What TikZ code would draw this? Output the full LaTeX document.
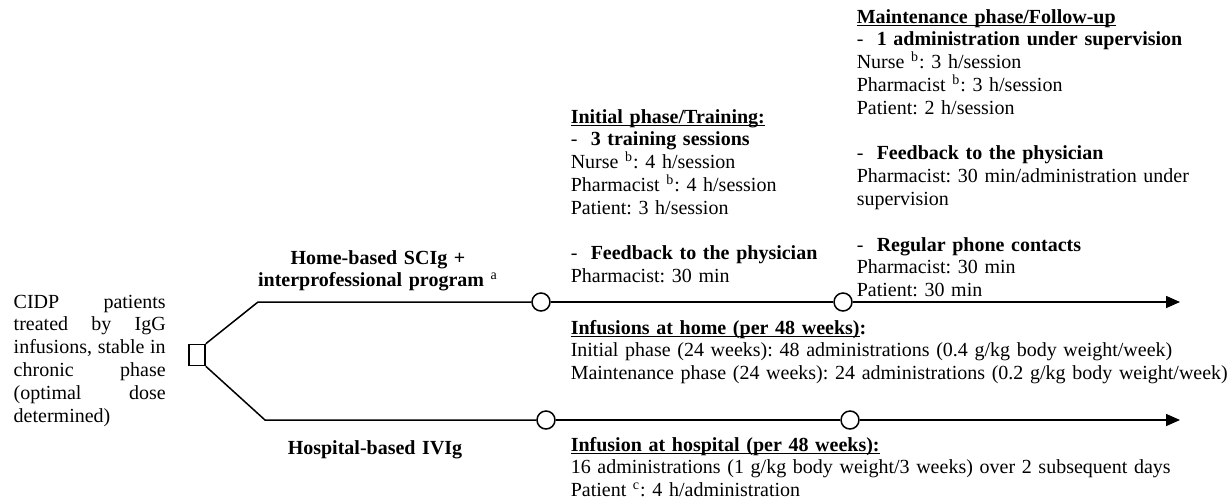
\documentclass[tikz,border=0pt]{standalone}
\usepackage{fontspec}
\setmainfont{Liberation Serif}
\usetikzlibrary{arrows.meta}
\newcommand{\cohortline}[1]{\leavevmode\hbox to 76pt{#1}}
\newsavebox{\headbox}
\newcommand{\ulhead}[1]{\sbox{\headbox}{#1}\rlap{\rule[-1.7pt]{\wd\headbox}{0.6pt}}\usebox{\headbox}}
\frenchspacing
\begin{document}
\begin{tikzpicture}[x=0.5pt,y=-0.5pt,line width=0.75pt,
    txt/.style={anchor=base west,inner sep=0pt,align=left,font=\fontsize{10}{11.4}\selectfont\frenchspacing},
    lbl/.style={anchor=base,inner sep=0pt,align=center,text width=240pt,font=\fontsize{10}{11.4}\selectfont\bfseries},
    event/.style={draw,circle,fill=white,minimum size=9pt,inner sep=0pt},
    decision/.style={draw,rectangle,minimum width=8pt,minimum height=10.5pt,inner sep=0pt}]

    \useasboundingbox (0,0) rectangle (1230,499);

    \node[txt,text width=76pt] (cohort) at (13,308) {\cohortline{CIDP\hfill patients}\\\cohortline{treated\hfill by\hfill IgG}\\\cohortline{infusions,\hfill stable\hfill in}\\\cohortline{chronic\hfill phase}\\\cohortline{(optimal\hfill dose}\\determined)};

    \node[decision] (dec) at (197,355) {};
    \coordinate (homekink) at (258,302);
    \coordinate (hospkink) at (265,420);
    \node[event] (home1) at (541,302) {};
    \node[event] (home2) at (843,302) {};
    \coordinate (homeend) at (1180,302);
    \node[event] (hosp1) at (546,420) {};
    \node[event] (hosp2) at (850,420) {};
    \coordinate (hospend) at (1180,420);

\draw (dec.north east) -- (homekink) -- (home1);
\draw (home1) -- (home2);
\draw[-{Triangle[length=7pt,width=6pt]}] (home2) -- (homeend);
\draw (dec.south east) -- (hospkink) -- (hosp1);
\draw (hosp1) -- (hosp2);
\draw[-{Triangle[length=7pt,width=6pt]}] (hosp2) -- (hospend);

    \node[lbl] (homelbl) at (378,264) {Home-based SCIg +\\interprofessional program \textsuperscript{\mdseries a}};
    \node[lbl] (hosplbl) at (375,454) {Hospital-based IVIg};

    \node[txt,text width=180pt] (initial) at (570,123) {\ulhead{\textbf{Initial phase/Training:}}\\
    -\ \ \textbf{3 training sessions}\\
    Nurse \textsuperscript{b}: 4 h/session\\
    Pharmacist \textsuperscript{b}: 4 h/session\\
    Patient: 3 h/session\\[11.4pt]
    -\ \ \textbf{Feedback to the physician}\\
    Pharmacist: 30 min};

    \node[txt,text width=200pt] (maint) at (856,23) {\ulhead{\textbf{Maintenance phase/Follow-up}}\\
    -\ \ \textbf{1 administration under supervision}\\
    Nurse \textsuperscript{b}: 3 h/session\\
    Pharmacist \textsuperscript{b}: 3 h/session\\
    Patient: 2 h/session\\[11.4pt]
    -\ \ \textbf{Feedback to the physician}\\
    Pharmacist: 30 min/administration under\\
    supervision\\[11.4pt]
    -\ \ \textbf{Regular phone contacts}\\
    Pharmacist: 30 min\\
    Patient: 30 min};

    \node[txt,text width=340pt] (homeinf) at (570,334) {\ulhead{\textbf{Infusions at home (per 48 weeks)}}\textbf{:}\\
    Initial phase (24 weeks): 48 administrations (0.4 g/kg body weight/week)\\
    Maintenance phase (24 weeks): 24 administrations (0.2 g/kg body weight/week)};

    \node[txt,text width=340pt] (hospinf) at (570,451) {\ulhead{\textbf{Infusion at hospital (per 48 weeks):}}\\
    16 administrations (1 g/kg body weight/3 weeks) over 2 subsequent days\\
    Patient \textsuperscript{c}: 4 h/administration};
\end{tikzpicture}
\end{document}
